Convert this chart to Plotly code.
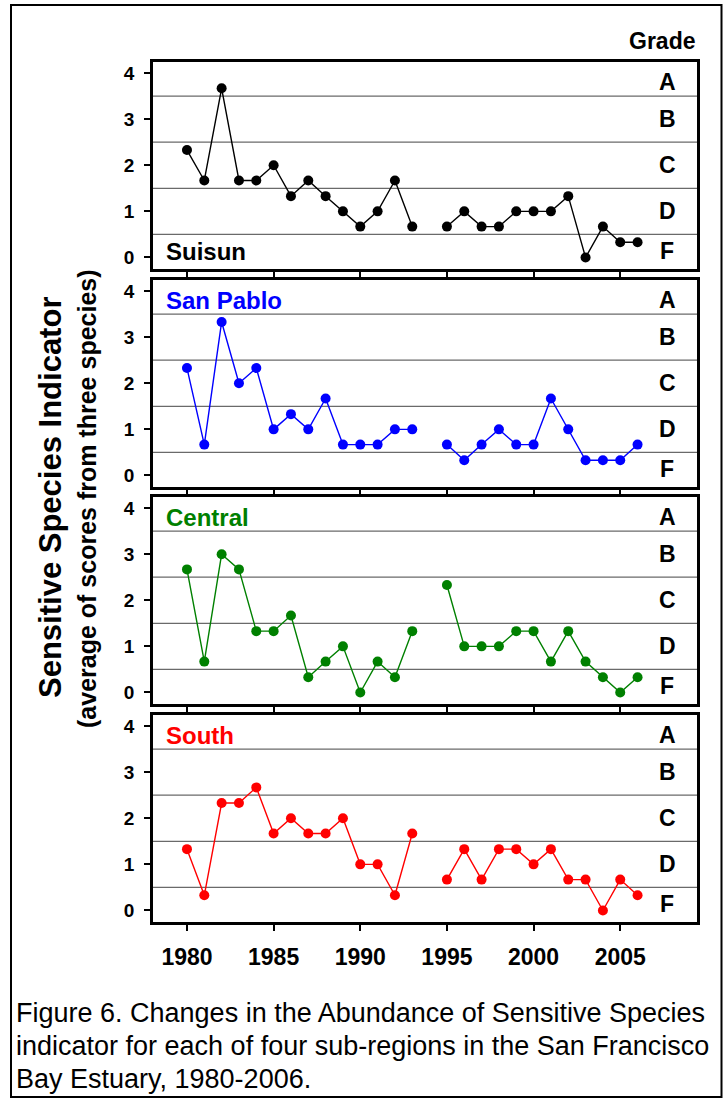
import plotly.graph_objects as go

W, H = 723, 1109

# ---- data -------------------------------------------------------------
years = list(range(1980, 2007))

suisun = [2.33, 1.67, 3.67, 1.67, 1.67, 2.0, 1.33, 1.67, 1.33, 1.0, 0.67, 1.0, 1.67, 0.67,
          None, 0.67, 1.0, 0.67, 0.67, 1.0, 1.0, 1.0, 1.33, 0.0, 0.67, 0.33, 0.33]
san_pablo = [2.33, 0.67, 3.33, 2.0, 2.33, 1.0, 1.33, 1.0, 1.67, 0.67, 0.67, 0.67, 1.0, 1.0,
             None, 0.67, 0.33, 0.67, 1.0, 0.67, 0.67, 1.67, 1.0, 0.33, 0.33, 0.33, 0.67]
central = [2.67, 0.67, 3.0, 2.67, 1.33, 1.33, 1.67, 0.33, 0.67, 1.0, 0.0, 0.67, 0.33, 1.33,
           None, 2.33, 1.0, 1.0, 1.0, 1.33, 1.33, 0.67, 1.33, 0.67, 0.33, 0.0, 0.33]
south = [1.33, 0.33, 2.33, 2.33, 2.67, 1.67, 2.0, 1.67, 1.67, 2.0, 1.0, 1.0, 0.33, 1.67,
         None, 0.67, 1.33, 0.67, 1.33, 1.33, 1.0, 1.33, 0.67, 0.67, 0.0, 0.67, 0.33]

regions = ["Suisun", "San Pablo", "Central", "South"]
series = [suisun, san_pablo, central, south]
colors = ["#000000", "#0000ff", "#008000", "#ff0000"]

grades = ["A", "B", "C", "D", "F"]
grade_y = [3.8, 3.0, 2.0, 1.0, 0.15]
grade_bounds = [0.5, 1.5, 2.5, 3.5]

x_ticks = [1980, 1985, 1990, 1995, 2000, 2005]
y_ticks = [0, 1, 2, 3, 4]

caption_lines = [
    "Figure 6. Changes in the Abundance of Sensitive Species",
    "indicator for each of four sub-regions in the San Francisco",
    "Bay Estuary, 1980-2006.",
]

# ---- layout helpers (pixel -> paper) ---------------------------------
FONT = "Liberation Sans, Arial, Helvetica, sans-serif"
def pxx(p):
    return p / W
def pxy(p):
    return 1 - p / H

panel_tops = [62, 280, 497, 715]
panel_h = 207
x_left, x_right = 153, 697

fig = go.Figure()
layout = dict(
    width=W, height=H, margin=dict(l=0, r=0, t=0, b=0),
    paper_bgcolor="white", plot_bgcolor="white", showlegend=False,
    font=dict(family=FONT, color="black"),
)
shapes = []
annotations = []

for i, (name, vals, col) in enumerate(zip(regions, series, colors)):
    n = "" if i == 0 else str(i + 1)
    top = panel_tops[i]
    fig.add_trace(go.Scatter(
        x=years, y=vals, mode="lines+markers", connectgaps=False,
        line=dict(color=col, width=1.4),
        marker=dict(size=10, color=col),
        xaxis="x" + n, yaxis="y" + n, name=name,
    ))
    layout["xaxis" + n] = dict(
        domain=[pxx(x_left), pxx(x_right)], range=[1978.04, 2009.43],
        anchor="y" + n, tickvals=x_ticks, ticks="outside", ticklen=6,
        tickwidth=2, tickcolor="black", showline=True, linewidth=2.5,
        linecolor="black", mirror=True, showgrid=False, zeroline=False,
        showticklabels=(i == 3), ticklabelstandoff=7,
        tickfont=dict(family=FONT, size=23, weight="bold", color="black"),
    )
    layout["yaxis" + n] = dict(
        domain=[pxy(top + panel_h), pxy(top)], range=[-0.25, 4.24],
        anchor="x" + n, tickvals=y_ticks, ticks="outside", ticklen=6,
        tickwidth=2, tickcolor="black", showline=True, linewidth=2.5,
        linecolor="black", mirror=True, showgrid=False, zeroline=False,
        ticklabelstandoff=6,
        tickfont=dict(family=FONT, size=19, weight="bold", color="black"),
    )
    # grade boundaries
    for b in grade_bounds:
        shapes.append(dict(type="line", xref="x" + n + " domain", yref="y" + n,
                           x0=0, x1=1, y0=b, y1=b, layer="below",
                           line=dict(color="#6a6a6a", width=1.2)))
    # grade letters
    for g, gy in zip(grades, grade_y):
        annotations.append(dict(text=g, xref="paper", yref="y" + n,
                                x=pxx(667), y=gy, xanchor="center", yanchor="middle",
                                showarrow=False,
                                font=dict(family=FONT, size=23, weight="bold", color="black")))
    # region label
    label_y = 0.12 if i == 0 else 3.8
    annotations.append(dict(text=name, xref="paper", yref="y" + n,
                            x=pxx(164), y=label_y, xanchor="left", yanchor="middle",
                            showarrow=False,
                            font=dict(family=FONT, size=24, weight="bold", color=col)))

annotations.append(dict(text="Grade", xref="paper", yref="paper",
                        x=pxx(662), y=pxy(41), xanchor="center", yanchor="middle",
                        showarrow=False,
                        font=dict(family=FONT, size=23, weight="bold", color="black")))

annotations.append(dict(text="Sensitive Species Indicator", textangle=-90,
                        xref="paper", yref="paper", x=pxx(50), y=pxy(498),
                        xanchor="center", yanchor="middle", showarrow=False,
                        font=dict(family=FONT, size=31, weight="bold", color="black")))
annotations.append(dict(text="(average of scores from three species)", textangle=-90,
                        xref="paper", yref="paper", x=pxx(87), y=pxy(499),
                        xanchor="center", yanchor="middle", showarrow=False,
                        font=dict(family=FONT, size=25, weight="bold", color="black")))

for k, line in enumerate(caption_lines):
    annotations.append(dict(text=line, xref="paper", yref="paper",
                            x=pxx(14), y=pxy(1013 + 33 * k), xanchor="left",
                            yanchor="middle", showarrow=False,
                            font=dict(family=FONT, size=27, color="black")))

# outer frame around the whole figure
shapes.append(dict(type="rect", xref="paper", yref="paper",
                   x0=pxx(11), x1=pxx(721.5), y0=pxy(1097), y1=pxy(5),
                   line=dict(color="black", width=2), fillcolor="rgba(0,0,0,0)"))

layout["shapes"] = shapes
layout["annotations"] = annotations
fig.update_layout(**layout)
fig.write_html("out.html")
